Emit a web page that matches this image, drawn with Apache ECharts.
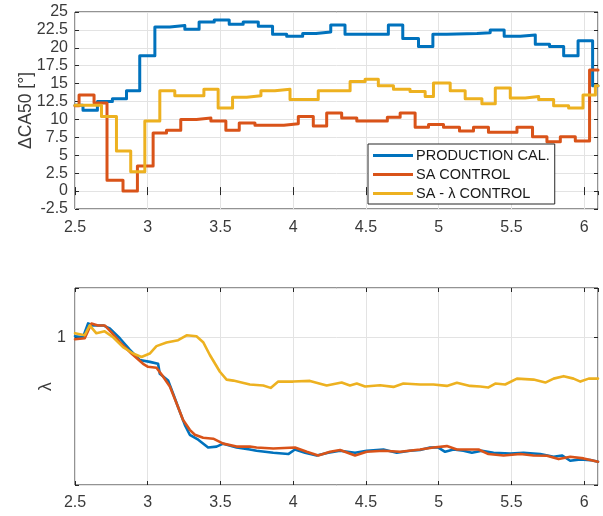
<!DOCTYPE html>
<html>
<head>
<meta charset="utf-8">
<script src="https://cdn.jsdelivr.net/npm/echarts@6/dist/echarts.min.js"></script>
<style>
  html, body { margin: 0; padding: 0; background: #fff; }
  #chart { width: 603px; height: 516px; }
</style>
</head>
<body>
<div id="chart"></div>
<script>
const FONT = 'Liberation Sans';
const FONTCOLOR = '#3a3a3a';
const GRIDCOLOR = '#e3e3e3';
const BOXCOLOR = '#262626';
const COLORS = ['#0072BD', '#D95319', '#EDB120'];
const NAMES = ['PRODUCTION CAL.', 'SA CONTROL', 'SA - λ CONTROL'];

// top panel: step changes of delta CA50 (x where a step starts, new value)
const prodX = [2.5, 2.555, 2.654, 2.757, 2.854, 2.945, 3.049, 3.152, 3.255, 3.353, 3.457, 3.56, 3.656, 3.76, 3.858, 3.955, 4.065, 4.157, 4.258, 4.356, 4.654, 4.753, 4.861, 4.96, 5.056, 5.263, 5.354, 5.45, 5.561, 5.664, 5.762, 5.859, 5.958, 6.058, 6.095];
const prodCa = [12.0, 11.3, 12.5, 12.9, 14.0, 18.9, 22.9, 23.1, 22.6, 23.6, 23.9, 23.3, 23.6, 23.0, 21.9, 21.6, 22.0, 22.2, 23.2, 21.9, 23.2, 21.3, 20.2, 21.9, 22.0, 22.1, 22.5, 21.6, 21.8, 20.5, 20.2, 18.9, 21.0, 14.7, 14.7];

const saX = [2.5, 2.528, 2.631, 2.72, 2.83, 2.929, 3.037, 3.129, 3.227, 3.335, 3.434, 3.537, 3.629, 3.737, 3.84, 3.936, 4.035, 4.138, 4.23, 4.333, 4.437, 4.647, 4.735, 4.838, 4.93, 5.033, 5.143, 5.239, 5.342, 5.538, 5.645, 5.744, 5.836, 5.939, 6.037, 6.095];
const saCa = [11.9, 13.4, 12.3, 1.5, 0, 3.5, 8.1, 8.5, 10.0, 10.2, 9.8, 8.5, 9.5, 9.2, 9.2, 9.4, 10.4, 9.1, 10.9, 10.2, 9.8, 10.3, 10.9, 8.9, 9.3, 8.9, 8.4, 8.9, 8.2, 8.9, 7.6, 6.9, 7.6, 7.0, 16.9, 16.9];

const salX = [2.5, 2.682, 2.785, 2.883, 2.98, 3.083, 3.186, 3.386, 3.484, 3.583, 3.68, 3.778, 3.874, 3.978, 4.172, 4.391, 4.494, 4.585, 4.689, 4.803, 4.907, 4.964, 5.079, 5.182, 5.297, 5.389, 5.492, 5.595, 5.687, 5.79, 5.893, 5.992, 6.077, 6.095];
const salCa = [12.0, 10.4, 5.6, 2.7, 9.8, 14.0, 13.3, 14.2, 11.6, 13.1, 13.3, 14.0, 14.2, 12.8, 14.0, 15.3, 15.6, 14.7, 14.2, 13.9, 13.2, 15.1, 14.0, 12.9, 12.2, 14.4, 13.0, 13.2, 12.8, 11.9, 11.6, 13.4, 14.7, 14.7];

// bottom panel: lambda
const prodLx = [2.5, 2.555, 2.59, 2.624, 2.693, 2.739, 2.808, 2.876, 2.945, 3.014, 3.071, 3.083, 3.14, 3.174, 3.209, 3.255, 3.289, 3.347, 3.415, 3.473, 3.519, 3.611, 3.702, 3.748, 3.863, 3.966, 4.012, 4.081, 4.161, 4.241, 4.322, 4.425, 4.505, 4.62, 4.712, 4.803, 4.872, 4.941, 4.998, 5.044, 5.102, 5.17, 5.228, 5.297, 5.377, 5.492, 5.583, 5.698, 5.79, 5.847, 5.904, 5.974, 6.043, 6.095];
const prodLam = [1.001, 1.0, 1.014, 1.012, 1.012, 1.009, 0.999, 0.9875, 0.977, 0.975, 0.973, 0.963, 0.956, 0.943, 0.929, 0.911, 0.901, 0.896, 0.888, 0.889, 0.892, 0.888, 0.886, 0.8847, 0.8827, 0.8814, 0.886, 0.8827, 0.88, 0.8827, 0.8847, 0.8827, 0.8847, 0.886, 0.8827, 0.8847, 0.8855, 0.888, 0.888, 0.8837, 0.886, 0.8847, 0.8827, 0.8847, 0.8827, 0.882, 0.8827, 0.8814, 0.8787, 0.88, 0.8746, 0.876, 0.8753, 0.8736];

const saLx = [2.5, 2.567, 2.613, 2.658, 2.704, 2.75, 2.808, 2.888, 2.968, 3.002, 3.06, 3.106, 3.152, 3.198, 3.243, 3.289, 3.324, 3.381, 3.45, 3.519, 3.611, 3.702, 3.748, 3.863, 4.012, 4.093, 4.172, 4.253, 4.322, 4.425, 4.505, 4.62, 4.735, 4.872, 4.964, 5.056, 5.125, 5.216, 5.274, 5.342, 5.446, 5.561, 5.652, 5.744, 5.824, 5.904, 5.996, 6.095];
const saLam = [0.998, 0.999, 1.014, 1.012, 1.012, 1.005, 0.995, 0.9835, 0.973, 0.97, 0.969, 0.96, 0.95, 0.933, 0.916, 0.906, 0.901, 0.898, 0.897, 0.892, 0.889, 0.889, 0.888, 0.887, 0.888, 0.8837, 0.88, 0.8837, 0.8855, 0.88, 0.8837, 0.8847, 0.8837, 0.886, 0.888, 0.8895, 0.886, 0.886, 0.886, 0.8814, 0.88, 0.8814, 0.88, 0.8797, 0.8763, 0.8787, 0.877, 0.8736];

const salLx = [2.5, 2.567, 2.601, 2.647, 2.704, 2.762, 2.83, 2.899, 2.957, 3.014, 3.06, 3.129, 3.209, 3.267, 3.335, 3.381, 3.427, 3.496, 3.542, 3.588, 3.702, 3.794, 3.845, 3.897, 4.0, 4.115, 4.23, 4.333, 4.39, 4.437, 4.494, 4.597, 4.689, 4.757, 4.872, 4.964, 5.056, 5.125, 5.216, 5.285, 5.342, 5.389, 5.457, 5.538, 5.652, 5.733, 5.79, 5.859, 5.927, 5.974, 6.031, 6.095];
const salLam = [1.004, 1.002, 1.012, 1.004, 1.006, 1.0, 0.99, 0.9835, 0.98, 0.9835, 0.991, 0.9946, 0.997, 1.002, 1.001, 0.995, 0.982, 0.965, 0.957, 0.956, 0.952, 0.951, 0.9486, 0.955, 0.955, 0.9557, 0.951, 0.954, 0.951, 0.953, 0.95, 0.9513, 0.9496, 0.953, 0.952, 0.952, 0.9506, 0.9537, 0.9506, 0.95, 0.949, 0.953, 0.952, 0.958, 0.957, 0.954, 0.958, 0.9605, 0.958, 0.955, 0.958, 0.958];

const zip = (xs, ys) => xs.map((x, i) => [x, ys[i]]);

const X_MIN = 2.5, X_MAX = 6.095;

const labelStyle = { color: FONTCOLOR, fontFamily: FONT, fontSize: 16 };
const nameStyle = { color: FONTCOLOR, fontFamily: FONT, fontSize: 17.5 };

function xAxes(gridIndex, margin) {
  return [
    {
      type: 'value', gridIndex, min: X_MIN, max: X_MAX, interval: 0.5,
      axisLine: { show: false },
      axisTick: { show: true, inside: true, length: 4, lineStyle: { color: BOXCOLOR } },
      axisLabel: Object.assign({ margin, showMaxLabel: false }, labelStyle),
      splitLine: { show: true, lineStyle: { color: GRIDCOLOR } },
    },
    {
      type: 'value', gridIndex, position: 'top', min: X_MIN, max: X_MAX, interval: 0.5,
      axisLine: { show: false },
      axisTick: { show: true, inside: true, length: 4, lineStyle: { color: BOXCOLOR } },
      axisLabel: { show: false },
      splitLine: { show: false },
    },
  ];
}

// right-hand box side with inward ticks, like matlab "box on"
function rightAxis(gridIndex, min, max, interval) {
  return {
    type: 'value', gridIndex, position: 'right', min, max, interval,
    axisLine: { show: false },
    axisTick: { show: true, inside: true, length: 4, lineStyle: { color: BOXCOLOR } },
    axisLabel: { show: false },
    splitLine: { show: false },
  };
}

const chart = echarts.init(document.getElementById('chart'), null, { renderer: 'canvas' });

const lineSeries = (name, xi, yi, data, color, width, step) => ({
  name, type: 'line', xAxisIndex: xi, yAxisIndex: yi, data,
  step: step ? 'end' : false,
  showSymbol: false, symbol: 'none', animation: false,
  lineStyle: { color, width, join: 'round', cap: 'round' },
  itemStyle: { color },
});

chart.setOption({
  backgroundColor: '#fff',
  animation: false,
  grid: [
    { left: 75, right: 5, top: 12, height: 197, show: true, borderColor: BOXCOLOR, borderWidth: 1, backgroundColor: 'transparent' },
    { left: 75, right: 5, top: 288, height: 197, show: true, borderColor: BOXCOLOR, borderWidth: 1, backgroundColor: 'transparent' },
  ],
  legend: {
    data: NAMES,
    orient: 'vertical',
    left: 368, top: 144,
    padding: [4, 5, 3, 5],
    itemGap: 4,
    itemWidth: 40, itemHeight: 3,
    icon: 'rect',
    backgroundColor: '#fff',
    borderColor: BOXCOLOR, borderWidth: 1, borderRadius: 0,
    textStyle: { color: '#1a1a1a', fontFamily: FONT, fontSize: 14.5, padding: [0, 0, 0, -2] },
  },
  xAxis: xAxes(0, 11).concat(xAxes(1, 10)),
  yAxis: [
    {
      type: 'value', gridIndex: 0, min: -2.5, max: 25, interval: 2.5,
      name: 'ΔCA50 [°]', nameLocation: 'middle', nameGap: 40, nameMoveOverlap: false,
      nameTextStyle: nameStyle,
      axisLine: { show: false },
      axisTick: { show: true, inside: true, length: 4, lineStyle: { color: BOXCOLOR } },
      axisLabel: Object.assign({ margin: 7 }, labelStyle),
      splitLine: { show: true, lineStyle: { color: GRIDCOLOR } },
    },
    rightAxis(0, -2.5, 25, 2.5),
    {
      type: 'value', gridIndex: 1, min: 0.85, max: 1.05, interval: 0.15,
      name: 'λ', nameLocation: 'middle', nameGap: 20, nameMoveOverlap: false,
      nameTextStyle: nameStyle,
      axisLine: { show: false },
      axisTick: { show: true, inside: true, length: 4, lineStyle: { color: BOXCOLOR } },
      axisLabel: Object.assign({ margin: 9, formatter: v => (Math.abs(v - 1) < 1e-9 ? '1' : '') }, labelStyle),
      splitLine: { show: true, lineStyle: { color: GRIDCOLOR } },
    },
    rightAxis(1, 0.85, 1.05, 0.15),
  ],
  series: [
    lineSeries(NAMES[0], 0, 0, zip(prodX, prodCa), COLORS[0], 3, true),
    lineSeries(NAMES[1], 0, 0, zip(saX, saCa), COLORS[1], 3, true),
    lineSeries(NAMES[2], 0, 0, zip(salX, salCa), COLORS[2], 3, true),
    lineSeries(NAMES[0], 2, 2, zip(prodLx, prodLam), COLORS[0], 2.6, false),
    lineSeries(NAMES[1], 2, 2, zip(saLx, saLam), COLORS[1], 2.6, false),
    lineSeries(NAMES[2], 2, 2, zip(salLx, salLam), COLORS[2], 2.6, false),
  ],
});
</script>
</body>
</html>
